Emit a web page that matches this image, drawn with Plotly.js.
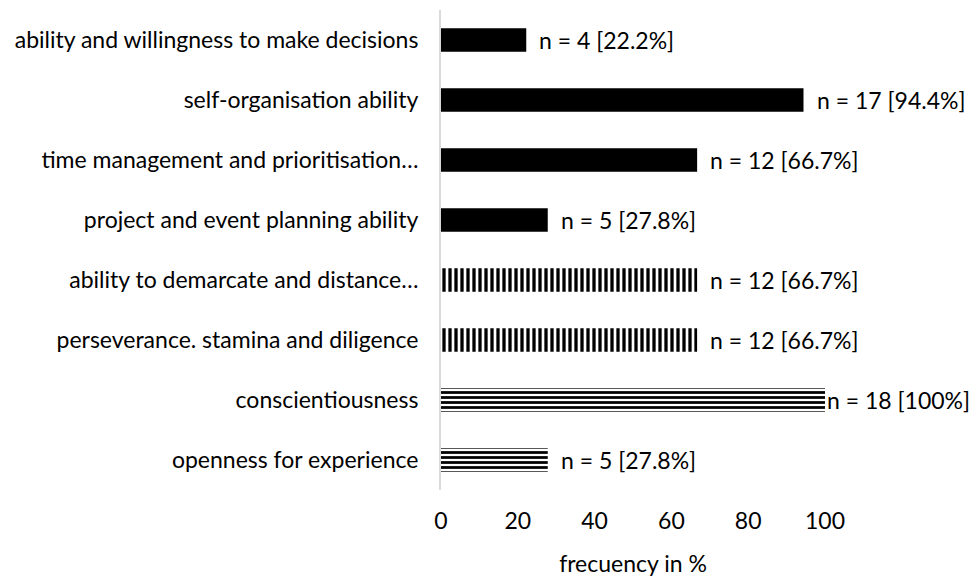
<!DOCTYPE html>
<html>
<head>
<meta charset="utf-8">
<script src="https://cdn.plot.ly/plotly-3.0.1.min.js"></script>
<style>html,body{margin:0;padding:0;background:#fff;}#chart{width:970px;height:577px;}</style>
</head>
<body>
<div id="chart"></div>
<script>
// Data (top to bottom as in the picture)
const categories = [
  "ability and willingness to make decisions",
  "self-organisation ability",
  "time management and prioritisation…",
  "project and event planning ability",
  "ability to demarcate and distance…",
  "perseverance. stamina and diligence",
  "conscientiousness",
  "openness for experience"
];
const percents = [22.2, 94.4, 66.7, 27.8, 66.7, 66.7, 100, 27.8];
const counts = [4, 17, 12, 5, 12, 12, 18, 5];
const patterns = ["", "", "", "", "|", "|", "-", "-"];
const xTicks = [0, 20, 40, 60, 80, 100];

const labels = percents.map((p, i) => "n = " + counts[i] + " [" + (p === 100 ? "100" : p.toFixed(1)) + "%]");

const FONT = "Lato, Open Sans, sans-serif";
const FS = 23;

const patternStyles = {
  "": {shape: "", size: 6},
  "|": {shape: "|", size: 6, solidity: 0.55},
  "-": {shape: "-", size: 5, solidity: 0.55}
};

const traces = Object.keys(patternStyles).map(key => {
  const idx = patterns.map((p, i) => p === key ? i : -1).filter(i => i >= 0);
  const st = patternStyles[key];
  const marker = {color: key === "" ? "#000000" : "#ffffff", line: {width: 0}};
  if (key !== "") {
    marker.pattern = {shape: st.shape, fgcolor: "#000000", fgopacity: 1, size: st.size, solidity: st.solidity, fillmode: "overlay"};
  }
  return {
    type: "bar",
    orientation: "h",
    y: idx.map(i => categories[i]),
    x: idx.map(i => percents[i]),
    width: 0.39,
    marker: marker,
    hoverinfo: "none"
  };
});

const annotations = percents.map((p, i) => ({
  x: p, y: categories[i], xref: "x", yref: "y",
  text: labels[i], showarrow: false,
  xanchor: "left", yanchor: "middle",
  xshift: p >= 100 ? 0 : 11,
  font: {family: FONT, size: FS, color: "#000"}
}));

const layout = {
  width: 970, height: 577,
  margin: {l: 441, r: 145, t: 10, b: 87},
  paper_bgcolor: "#fff", plot_bgcolor: "#fff",
  showlegend: false,
  barmode: "overlay",
  font: {family: FONT, size: FS, color: "#000"},
  xaxis: {
    range: [0, 100],
    tickvals: xTicks,
    ticktext: xTicks.map(String),
    showgrid: false, zeroline: false, showline: false,
    ticks: "outside", ticklen: 10, tickcolor: "rgba(0,0,0,0)",
    tickfont: {family: FONT, size: FS, color: "#000"},
    title: {text: "frecuency in %", font: {family: FONT, size: FS, color: "#000"}, standoff: 24},
    fixedrange: true
  },
  yaxis: {
    type: "category",
    categoryorder: "array",
    categoryarray: categories.slice().reverse(),
    autorange: false,
    range: [-0.5, categories.length - 0.5],
    showgrid: false, zeroline: false,
    showline: true, linecolor: "#d9d9d9", linewidth: 2,
    ticks: "outside", ticklen: 16, tickcolor: "rgba(0,0,0,0)",
    tickfont: {family: FONT, size: FS, color: "#000"},
    fixedrange: true
  },
  annotations: annotations
};

Plotly.newPlot("chart", traces, layout, {displayModeBar: false, staticPlot: true});
</script>
</body>
</html>
